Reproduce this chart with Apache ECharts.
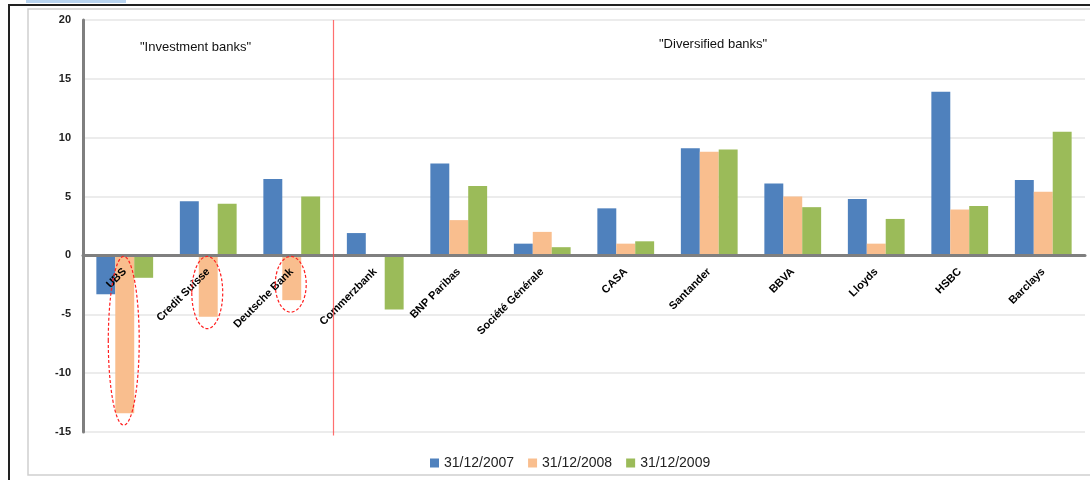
<!DOCTYPE html>
<html>
<head>
<meta charset="utf-8">
<script src="https://cdn.jsdelivr.net/npm/echarts@6/dist/echarts.min.js"></script>
<style>
  html, body { margin: 0; padding: 0; background: #fff; }
  #main { width: 1090px; height: 480px; }
</style>
</head>
<body>
<div id="main"></div>
<script>
// banks on the x axis
const banks = ['UBS', 'Credit Suisse', 'Deutsche Bank', 'Commerzbank', 'BNP Paribas',
  'Société Générale', 'CASA', 'Santander', 'BBVA', 'Lloyds', 'HSBC', 'Barclays'];

const seriesNames = ['31/12/2007', '31/12/2008', '31/12/2009'];

const y2007 = [-3.3, 4.6, 6.5, 1.9, 7.8, 1.0, 4.0, 9.1, 6.1, 4.8, 13.9, 6.4];
const y2008 = [-13.4, -5.2, -3.8, 0, 3.0, 2.0, 1.0, 8.8, 5.0, 1.0, 3.9, 5.4];
const y2009 = [-1.9, 4.4, 5.0, -4.6, 5.9, 0.7, 1.2, 9.0, 4.1, 3.1, 4.2, 10.5];

// circled 2008 bars (category index)
const circled = [0, 1, 2];

const colors = ['#4f81bd', '#f9be8e', '#9bbb59'];

const chart = echarts.init(document.getElementById('main'));

// red dashed ellipse around the 2008 bar, red line between investment/diversified
function renderNotes(params, api) {
  const kind = api.value(0);
  if (kind === 'line') {
    const a = api.coord([2, 0]);
    const b = api.coord([3, 0]);
    const x = (a[0] + b[0]) / 2;
    const top = api.coord([0, 20])[1];
    const bot = api.coord([0, -15.3])[1];
    return {
      type: 'line',
      shape: { x1: x, y1: top, x2: x, y2: bot },
      style: { stroke: '#ff4b4b', lineWidth: 1.2, opacity: 0.8 }
    };
  }
  const idx = api.value(1);
  const c0 = api.coord([idx, 0]);
  const c1 = api.coord([idx, y2008[idx]]);
  const bw = api.size([1, 0])[0] * 0.68 / 3;
  const top = c0[1] + 1;
  const bot = c1[1] + 12;
  return {
    type: 'ellipse',
    shape: { cx: c0[0] - 1, cy: (top + bot) / 2, rx: bw / 2 + 6, ry: (bot - top) / 2 },
    style: { fill: 'none', stroke: '#ff2020', lineWidth: 1.2, lineDash: [3, 2] }
  };
}

const noteData = circled.map(i => ['ellipse', i]).concat([['line', 0]]);

chart.setOption({
  animation: false,
  color: colors,
  textStyle: { fontFamily: 'Liberation Sans, Arial, sans-serif' },
  grid: { left: 83, right: 5, top: 20, bottom: 48, outerBoundsMode: 'none', containLabel: false },
  legend: {
    data: seriesNames,
    left: 425,
    top: 451,
    itemWidth: 9,
    itemHeight: 9,
    itemGap: 14,
    icon: 'rect',
    textStyle: { fontSize: 14, color: '#222' }
  },
  graphic: [
    { type: 'rect', shape: { x: 9, y: 5, width: 1090, height: 480 },
      style: { fill: 'none', stroke: '#222', lineWidth: 2 } },
    { type: 'rect', shape: { x: 28, y: 9, width: 1070, height: 466 },
      style: { fill: 'none', stroke: '#cfcfcf', lineWidth: 1.5 } },
    { type: 'rect', shape: { x: 26, y: 0, width: 100, height: 3 },
      style: { fill: '#b8d4f0' } },
    { type: 'text', left: 140, top: 41,
      style: { text: '"Investment banks"', fontSize: 13, fill: '#111', fontFamily: 'Liberation Sans' } },
    { type: 'text', left: 659, top: 38,
      style: { text: '"Diversified banks"', fontSize: 13, fill: '#111', fontFamily: 'Liberation Sans' } }
  ],
  xAxis: {
    type: 'category',
    data: banks,
    z: 4,
    axisLine: { onZero: true, lineStyle: { color: '#7f7f7f', width: 3 } },
    axisTick: { show: false },
    axisLabel: {
      rotate: 45, interval: 0, fontSize: 11, fontWeight: 'bold', color: '#000', margin: -162
    }
  },
  yAxis: {
    type: 'value',
    min: -15, max: 20, interval: 5,
    axisLine: { show: true, lineStyle: { color: '#7f7f7f', width: 3 } },
    axisTick: { show: false },
    axisLabel: { fontSize: 11, fontWeight: 'bold', color: '#222', margin: 12 },
    splitLine: { lineStyle: { color: '#e6e6e6', width: 1.5 } }
  },
  series: [
    { name: seriesNames[0], type: 'bar', data: y2007, barGap: '0%', barCategoryGap: '32%' },
    { name: seriesNames[1], type: 'bar', data: y2008, barGap: '0%', barCategoryGap: '32%' },
    { name: seriesNames[2], type: 'bar', data: y2009, barGap: '0%', barCategoryGap: '32%' },
    {
      type: 'custom', renderItem: renderNotes, data: noteData,
      encode: { x: 1, y: 1 }, silent: true, z: 5, clip: false
    }
  ]
});
</script>
</body>
</html>
